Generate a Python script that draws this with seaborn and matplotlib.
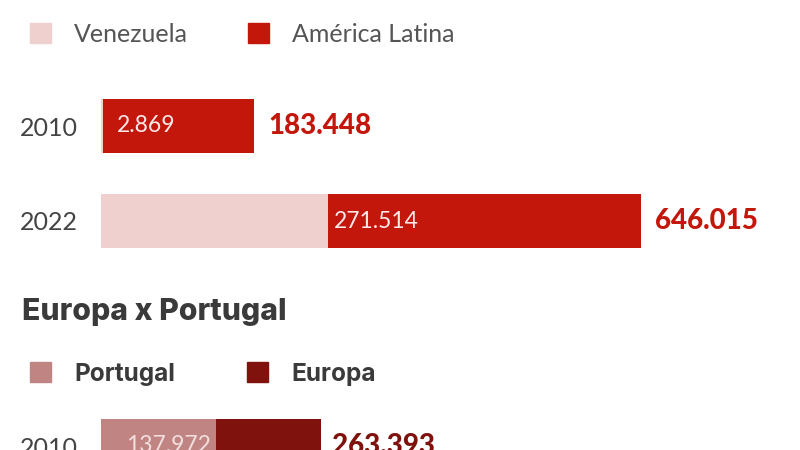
import matplotlib
matplotlib.use("Agg")
import matplotlib.pyplot as plt
from matplotlib.patches import Patch
import seaborn as sns
import pandas as pd

sns.set_theme(style="white")
plt.rcParams['font.family'] = ['Lato', 'DejaVu Sans']

# ---- data ----
years_top = ["2010", "2022"]
venezuela = [2869, 271514]
america_latina = [183448, 646015]

years_bottom = ["2010"]
portugal = [137972]
europa = [263393]

RED = "#c4170c"
PINK = "#f0cfcf"
PORT = "#c08583"
EUR = "#7f120d"
GREY = "#444444"

W, H = 800, 450
fig = plt.figure(figsize=(8, 4.5), dpi=100)

px_per_unit = 540 / 646015  # bar scale
x0 = 101
xmax = (W - x0) / px_per_unit
row_px = 95
bar_h = 54 / row_px


def axes_px(left, top, right, bottom):
    return fig.add_axes([left / W, 1 - bottom / H, (right - left) / W, (bottom - top) / H])


def fmt(v):
    return f"{v:,}".replace(",", ".")


# ---- top panel ----
top_axes_top, top_axes_bot = 60, 270
ax1 = axes_px(x0, top_axes_top, W, top_axes_bot)
df1 = pd.DataFrame({"year": years_top, "total": america_latina, "part": venezuela})
sns.barplot(data=df1, y="year", x="total", orient="h", color=RED, width=bar_h,
            saturation=1, ax=ax1, linewidth=0)
sns.barplot(data=df1, y="year", x="part", orient="h", color=PINK, width=bar_h,
            saturation=1, ax=ax1, linewidth=0)
ax1.set_xlim(0, xmax)
ax1.set_ylim(1 + (top_axes_bot - 221) / row_px, -(126 - top_axes_top) / row_px)
for i, (p, t) in enumerate(zip(venezuela, america_latina)):
    lx = max(p + 6 / px_per_unit, 16 / px_per_unit)
    ax1.text(lx, i, fmt(p), color="#fbe9e9", fontsize=16.5,
             va="center", ha="left")
    ax1.text(t + 14 / px_per_unit, i, fmt(t), color=RED, fontsize=20,
             fontweight="black", va="center", ha="left")

# ---- bottom panel ----
bot_axes_top, bot_axes_bot = 390, 450
ax2 = axes_px(x0, bot_axes_top, W, bot_axes_bot)
df2 = pd.DataFrame({"year": years_bottom, "total": europa, "part": portugal})
sns.barplot(data=df2, y="year", x="total", orient="h", color=EUR, width=bar_h,
            saturation=1, ax=ax2, linewidth=0)
sns.barplot(data=df2, y="year", x="part", orient="h", color=PORT, width=bar_h,
            saturation=1, ax=ax2, linewidth=0)
ax2.set_xlim(0, xmax)
ax2.set_ylim((bot_axes_bot - 446) / row_px, -(446 - bot_axes_top) / row_px)
for i, (p, t) in enumerate(zip(portugal, europa)):
    ax2.text(p - 5 / px_per_unit, i, fmt(p), color="#f3dede", fontsize=16.5,
             va="center", ha="right")
    ax2.text(t + 11 / px_per_unit, i, fmt(t), color=EUR, fontsize=20,
             fontweight="black", va="center", ha="left")

for ax in (ax1, ax2):
    ax.set_xlabel("")
    ax.set_ylabel("")
    ax.set_xticks([])
    sns.despine(ax=ax, left=True, bottom=True)
    ax.tick_params(axis="y", length=0, pad=16.5, labelsize=18, labelcolor=GREY)
    ax.patch.set_alpha(0)

# ---- legends & title ----
fig.legend(handles=[Patch(color=PINK, label="Venezuela"),
                    Patch(color=RED, label="América Latina")],
           loc="center left", bbox_to_anchor=(30 / W, 1 - 34 / H), ncol=2,
           frameon=False, fontsize=18, handlelength=0.85, handleheight=0.85,
           handletextpad=0.9, columnspacing=2.4, labelcolor="#555555",
           borderaxespad=0, borderpad=0)

fig.text(22 / W, 1 - 312 / H, "Europa x Portugal", fontsize=21.7, fontweight="heavy",
         family=["Inter", "Lato", "DejaVu Sans"],
         color="#3a3a3a", va="center", ha="left")

fig.legend(handles=[Patch(color=PORT, label="Portugal"),
                    Patch(color=EUR, label="Europa")],
           loc="center left", bbox_to_anchor=(30 / W, 1 - 374 / H), ncol=2,
           frameon=False, handlelength=0.85, handleheight=0.85,
           handletextpad=0.95, columnspacing=2.95, labelcolor="#3a3a3a",
           prop={"weight": "bold", "size": 17.6, "family": ["Inter", "Lato", "DejaVu Sans"]},
           borderaxespad=0, borderpad=0)

fig.savefig("out.png", dpi=100, facecolor="white")
